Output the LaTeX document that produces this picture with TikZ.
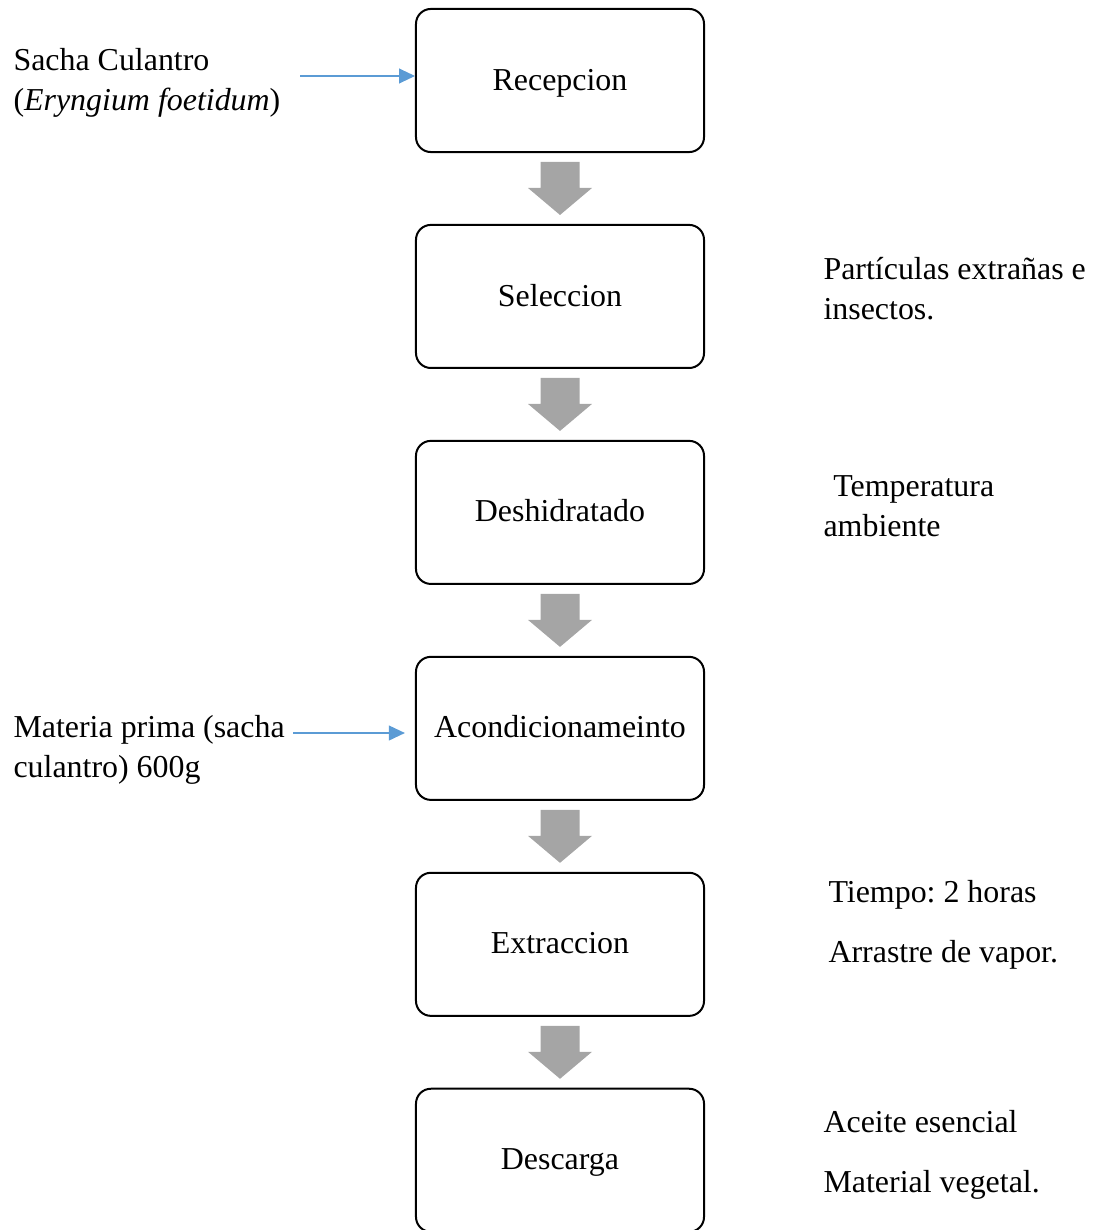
\documentclass[tikz,border=0pt]{standalone}
\usepackage{fontspec}
\setmainfont{Liberation Serif}
\frenchspacing
\usetikzlibrary{positioning,calc,arrows.meta}
\definecolor{pfeilblau}{HTML}{5B9BD5}
\definecolor{pfeilgrau}{HTML}{A5A5A5}
\tikzset{
	schritt/.style={draw, line width=0.75pt, rounded corners=5.6pt, minimum width=108.3pt, minimum height=53.8pt, align=center, text height=9pt, text depth=1.8pt},
	blauPfeil/.style={draw=pfeilblau, line width=0.45pt, -{Triangle[length=6pt,width=5.6pt]}},
	notiz/.style={anchor=west, inner sep=0pt, align=left}
}
\begin{document}
\begin{tikzpicture}[x=0.376pt, y=-0.376pt, every node/.style={font=\fontsize{12}{15}\selectfont}, node distance=26.65pt]
	\useasboundingbox (0,0) rectangle (1095,1230);
	
	% zeichne Prozessschritte
	\node[schritt] (rec) at (560,80.5) {Recepcion};
	\node[schritt, below=of rec] (sel) {Seleccion};
	\node[schritt, below=of sel] (des) {Deshidratado};
	\node[schritt, below=of des] (aco) {Acondicionameinto};
	\node[schritt, below=of aco] (ext) {Extraccion};
	\node[schritt, below=of ext] (dsc) {Descarga};
	
	% zeichne graue Pfeile
	\foreach \a/\b in {rec/sel, sel/des, des/aco, aco/ext, ext/dsc} {
		\coordinate (m-\a) at ($(\a.south)!.5!(\b.north)$);
		\fill[pfeilgrau, shift={(m-\a)}] (-19.5,-26.5) -- (19.5,-26.5) -- (19.5,-0.5) -- (32,-0.5)
			-- (0,26.5) -- (-32,-0.5) -- (-19.5,-0.5) -- cycle;
	}
	
	% zeichne Eingaenge
	\node[notiz] (t-sacha) at (13,83) {Sacha Culantro\\(\textit{Eryngium foetidum})};
	\node[notiz] (t-materia) at (13,750) {Materia prima (sacha\\culantro) 600g};
	\coordinate (in1) at (300,76);
	\coordinate (in2) at (293,733);
	\draw[blauPfeil] (in1) -- (in1 -| rec.west);
	\draw[blauPfeil, shorten >=3.8pt] (in2) -- (in2 -| aco.west);
	
	% zeichne Notizen rechts
	\node[notiz] (t-sel) at (823,289) {Partículas extrañas e\\insectos.};
	\node[notiz] (t-des) at (823,506) {\hspace{3.7pt}Temperatura\\ambiente};
	\node[notiz] (t-ext) at (828,925) {Tiempo: 2 horas\\[7.6pt]Arrastre de vapor.};
	\node[notiz] (t-dsc) at (823,1155) {Aceite esencial\\[7.6pt]Material vegetal.};
\end{tikzpicture}
\end{document}
